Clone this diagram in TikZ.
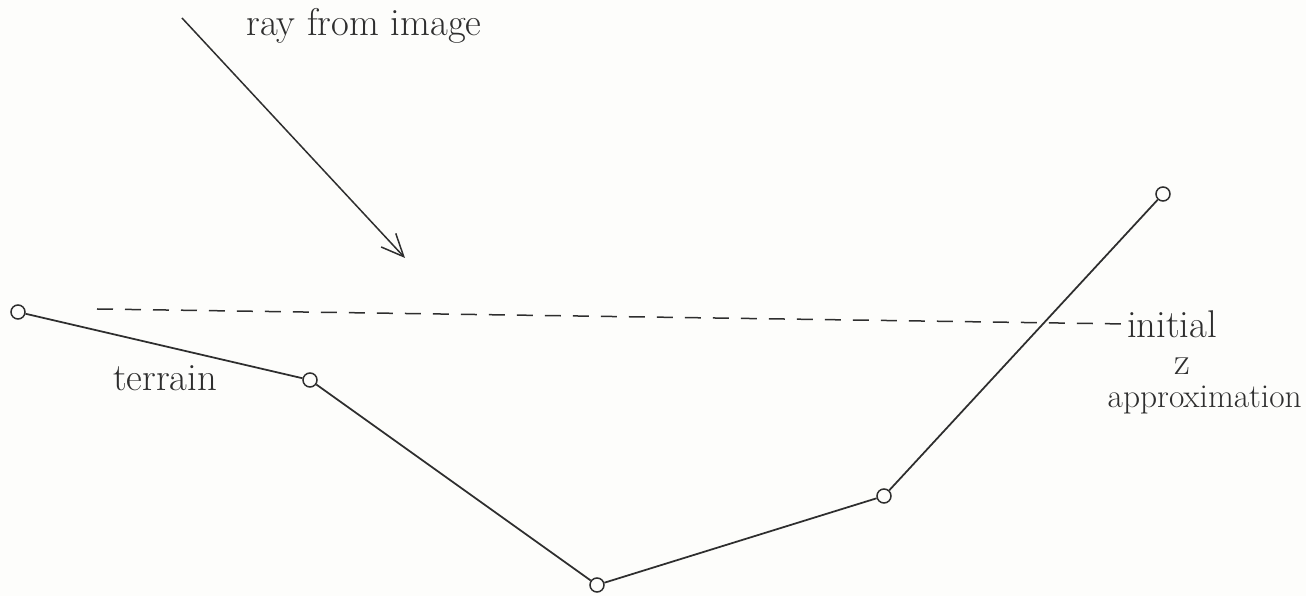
\documentclass[tikz,border=0pt]{standalone}
\usepackage{tikz}
\usetikzlibrary{arrows.meta,positioning}
\definecolor{SketchInk}{HTML}{2E2E2E}
\definecolor{SketchPaper}{HTML}{FDFDFB}

\begin{document}
\begin{tikzpicture}[
        x=0.2mm,y=-0.2mm,
        vertex/.style={circle,draw=SketchInk,fill=SketchPaper,line width=0.3mm,minimum size=2.8mm,inner sep=0pt},
        terrainline/.style={line width=0.35mm,draw=SketchInk},
        guess/.style={dashed,dash pattern=on 3.2mm off 2.4mm,line width=0.3mm,draw=SketchInk},
        ray/.style={-{Straight Barb[length=4.5mm,width=4mm]},line width=0.3mm,draw=SketchInk},
        hand/.style={text=SketchInk,inner sep=0pt,font=\fontsize{22}{25}\selectfont}
      ]
        \fill[SketchPaper] (0,0) rectangle (1306,596);
        \useasboundingbox (0,0) rectangle (1306,596);
        % terrain profile
        \node[vertex] (t1) at (18,312) {};
        \node[vertex] (t2) at (310,380) {};
        \node[vertex] (t3) at (597,585) {};
        \node[vertex] (t4) at (884,496) {};
        \node[vertex] (t5) at (1163,194) {};
        \draw[terrainline] (t1) -- (t2) -- (t3) -- (t4) -- (t5);
        \node[hand] (terrain) at (165,378) {terrain};
        % ray
        \coordinate (rayfrom) at (182,18);
        \coordinate (rayto) at (405,258);
        \draw[ray] (rayfrom) -- (rayto);
        \node[hand] (raylabel) at (364,26) {ray from image};
        % initial z approximation
        \coordinate (guessfrom) at (97,309);
        \node[hand] (initial) at (1172,324) {initial};
        \node[hand] (zlab) at (1182,366) {z};
        \node[hand,font=\fontsize{19}{22}\selectfont,anchor=east] (approx) at (1302,400) {approximation};
        \draw[guess] (guessfrom) -- (initial.west);
      \end{tikzpicture}
\end{document}
